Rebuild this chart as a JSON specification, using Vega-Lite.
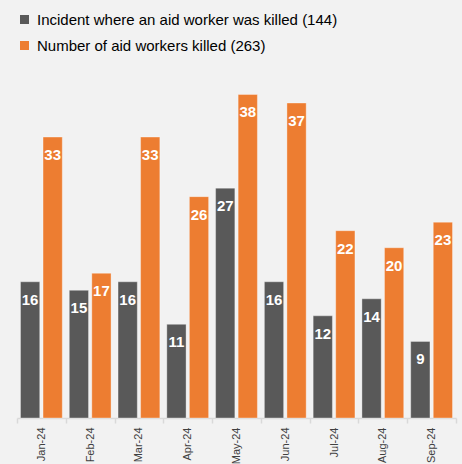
{
  "$schema": "https://vega.github.io/schema/vega-lite/v6.json",
  "autosize": "none",
  "width": 439,
  "height": 418,
  "padding": {"left": 17, "top": 0, "right": 6, "bottom": 46},
  "background": "#F2F2F2",
  "config": {
    "view": {"stroke": null},
    "font": "Liberation Sans, Arial"
  },
  "data": {
    "values": [
      {"month": "Jan-24", "series": "Incident where an aid worker was killed (144)", "value": 16},
      {"month": "Jan-24", "series": "Number of aid workers killed (263)", "value": 33},
      {"month": "Feb-24", "series": "Incident where an aid worker was killed (144)", "value": 15},
      {"month": "Feb-24", "series": "Number of aid workers killed (263)", "value": 17},
      {"month": "Mar-24", "series": "Incident where an aid worker was killed (144)", "value": 16},
      {"month": "Mar-24", "series": "Number of aid workers killed (263)", "value": 33},
      {"month": "Apr-24", "series": "Incident where an aid worker was killed (144)", "value": 11},
      {"month": "Apr-24", "series": "Number of aid workers killed (263)", "value": 26},
      {"month": "May-24", "series": "Incident where an aid worker was killed (144)", "value": 27},
      {"month": "May-24", "series": "Number of aid workers killed (263)", "value": 38},
      {"month": "Jun-24", "series": "Incident where an aid worker was killed (144)", "value": 16},
      {"month": "Jun-24", "series": "Number of aid workers killed (263)", "value": 37},
      {"month": "Jul-24", "series": "Incident where an aid worker was killed (144)", "value": 12},
      {"month": "Jul-24", "series": "Number of aid workers killed (263)", "value": 22},
      {"month": "Aug-24", "series": "Incident where an aid worker was killed (144)", "value": 14},
      {"month": "Aug-24", "series": "Number of aid workers killed (263)", "value": 20},
      {"month": "Sep-24", "series": "Incident where an aid worker was killed (144)", "value": 9},
      {"month": "Sep-24", "series": "Number of aid workers killed (263)", "value": 23}
    ]
  },
  "encoding": {
    "x": {
      "field": "month",
      "type": "nominal",
      "sort": null,
      "scale": {"paddingInner": 0, "paddingOuter": 0},
      "axis": {
        "title": null,
        "labelAngle": -90,
        "labelFontSize": 11,
        "labelColor": "#404040",
        "labelPadding": 4,
        "tickBand": "extent",
        "tickSize": 5,
        "tickColor": "#D9D9D9",
        "domainColor": "#D9D9D9",
        "domainWidth": 1.5,
        "tickWidth": 1.5
      }
    },
    "xOffset": {
      "field": "series",
      "type": "nominal",
      "sort": ["Incident where an aid worker was killed (144)", "Number of aid workers killed (263)"],
      "scale": {"paddingInner": 0.146, "paddingOuter": 0.155}
    },
    "y": {
      "field": "value",
      "type": "quantitative",
      "scale": {"domain": [0, 49.1], "nice": false, "zero": true},
      "axis": null
    }
  },
  "layer": [
    {
      "mark": {"type": "bar", "stroke": "#FFFFFF", "strokeWidth": 0.75, "strokeOpacity": 0.45},
      "encoding": {
        "color": {
          "field": "series",
          "type": "nominal",
          "scale": {
            "domain": ["Incident where an aid worker was killed (144)", "Number of aid workers killed (263)"],
            "range": ["#595959", "#ED7D31"]
          },
          "legend": {
            "title": null,
            "orient": "none",
            "legendX": 0,
            "legendY": 12,
            "padding": 0,
            "symbolType": "square",
            "symbolSize": 81,
            "symbolStrokeWidth": 0,
            "labelFontSize": 15,
            "labelOffset": 5,
            "rowPadding": 10,
            "labelLimit": 400,
            "encode": {
              "labels": {
                "update": {
                  "fill": {"signal": "indexof(datum.label, 'Number') === 0 ? '#ED7D31' : '#262626'"}
                }
              }
            }
          }
        }
      }
    },
    {
      "mark": {"type": "text", "baseline": "alphabetic", "dy": 23, "color": "#FFFFFF", "fontWeight": "bold", "fontSize": 15},
      "encoding": {
        "text": {"field": "value", "type": "quantitative"}
      }
    }
  ]
}
